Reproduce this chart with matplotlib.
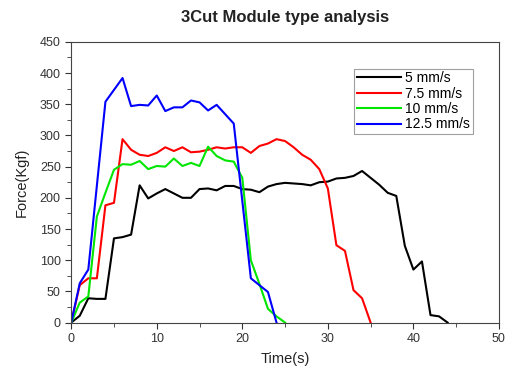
import matplotlib
matplotlib.use("Agg")
import matplotlib.pyplot as plt
from matplotlib.ticker import MultipleLocator

plt.rcParams['font.family'] = ['Liberation Sans', 'DejaVu Sans']

# 5 mm/s
t_5 = [0, 1, 2, 3, 4, 5, 6, 7, 8, 9, 10, 11, 12, 13, 14, 15, 16, 17, 18, 19, 20, 21,
       22, 23, 24, 25, 26, 27, 28, 29, 30, 31, 32, 33, 34, 35, 36, 37, 38, 39, 40, 41,
       42, 43, 44]
f_5 = [0, 11, 39, 38, 38, 135, 137, 141, 220, 199, 207, 214, 207, 200, 200, 214, 215,
       212, 219, 219, 214, 213, 209, 218, 222, 224, 223, 222, 220, 225, 226, 231, 232,
       235, 243, 232, 221, 208, 203, 123, 85, 98, 12, 10, 0]

# 7.5 mm/s
t_75 = [0, 1, 2, 3, 4, 5, 6, 7, 8, 9, 10, 11, 12, 13, 14, 15, 16, 17, 18, 19, 20, 21,
        22, 23, 24, 25, 26, 27, 28, 29, 30, 31, 32, 33, 34, 35]
f_75 = [0, 60, 71, 71, 188, 192, 294, 277, 269, 267, 272, 281, 275, 281, 273, 274, 277,
        281, 279, 281, 281, 272, 283, 287, 294, 291, 281, 269, 261, 246, 215, 124, 115,
        52, 39, 0]

# 10 mm/s
t_10 = [0, 1, 2, 3, 4, 5, 6, 7, 8, 9, 10, 11, 12, 13, 14, 15, 16, 17, 18, 19, 20, 21,
        22, 23, 24, 25]
f_10 = [0, 32, 42, 170, 208, 245, 254, 253, 259, 246, 251, 250, 263, 251, 256, 251,
        282, 267, 260, 258, 232, 100, 62, 22, 10, 0]

# 12.5 mm/s
t_125 = [0, 1, 2, 4, 6, 7, 8, 9, 10, 11, 12, 13, 14, 15, 16, 17, 19, 21, 22, 23, 24]
f_125 = [0, 63, 85, 354, 392, 347, 349, 348, 364, 339, 345, 345, 356, 353, 340, 349,
         319, 71, 60, 49, 0]

labels = ['5 mm/s', '7.5 mm/s', '10 mm/s', '12.5 mm/s']
colors = ['#000000', '#ff0000', '#00e600', '#0000ff']

fig = plt.figure(figsize=(5.05, 3.67), dpi=100)
ax = fig.add_axes([0.141, 0.121, 0.847, 0.765])

series = [(t_5, f_5), (t_75, f_75), (t_10, f_10), (t_125, f_125)]
for (t, f), lab, c in zip(series, labels, colors):
    ax.plot(t, f, color=c, lw=1.5, label=lab)

ax.set_xlim(0, 50)
ax.set_ylim(0, 450)
ax.xaxis.set_major_locator(MultipleLocator(10))
ax.xaxis.set_minor_locator(MultipleLocator(5))
ax.yaxis.set_major_locator(MultipleLocator(50))
ax.yaxis.set_minor_locator(MultipleLocator(25))
ax.tick_params(which='both', direction='out', top=False, right=False,
               labelsize=9, colors='#333333')
ax.tick_params(which='major', length=4)
ax.tick_params(which='minor', length=3)
for s in ax.spines.values():
    s.set_color('#444444')

ax.set_xlabel('Time(s)', fontsize=10.5, labelpad=5, color='#222222')
ax.set_ylabel('Force(Kgf)', fontsize=10.5, labelpad=8, color='#222222')
ax.set_title('3Cut Module type analysis', fontsize=12, fontweight='bold', pad=14,
             color='#222222')

leg = ax.legend(loc='upper left', bbox_to_anchor=(0.661, 0.905), fontsize=10,
                fancybox=False, handlelength=3.2, borderpad=0.2, labelspacing=0.1,
                handletextpad=0.3, borderaxespad=0)
leg.get_frame().set_edgecolor('#888888')
leg.get_frame().set_linewidth(0.8)

fig.savefig('out.png', dpi=100)
